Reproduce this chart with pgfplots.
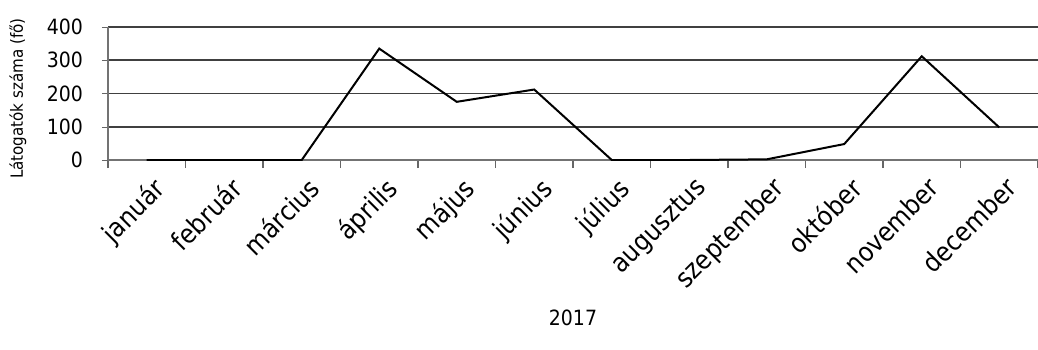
\documentclass[border=0pt]{standalone}
\usepackage{fontspec}
\setmainfont{DejaVu Sans Condensed}
\usepackage{pgfplots}
\pgfplotsset{compat=1.18}
\begin{document}
\begin{tikzpicture}
\begin{axis}[
  at={(0,0)}, anchor=south west,
  scale only axis,
  width=465pt, height=66.5pt,
  xmin=-0.5, xmax=11.5,
  ymin=0, ymax=400,
  ytick={0,100,200,300,400},
  xtick={0,...,11},
  xticklabels={január,február,március,április,május,június,július,augusztus,szeptember,október,november,december},
  minor xtick={-0.5,0.5,...,11.5},
  major x tick style={draw=none},
  minor x tick style={draw=black!60, line width=0.6pt},
  minor tick length=4pt,
  axis x line*=bottom,
  axis y line*=left,
  axis line style={draw=black!55, line width=0.7pt, -},
  ymajorgrids,
  grid style={draw=black!75, line width=0.8pt},
  y tick style={draw=black!60},
  xtick pos=lower, tick align=outside,
  major tick length=3pt,
  font=\fontsize{10}{12}\selectfont,
  yticklabel style={font=\fontsize{10.5}{12}\selectfont, xshift=-6pt},
  /pgf/number format/assume math mode=true,
  xticklabel style={font=\fontsize{13.2}{15}\selectfont, rotate=45, anchor=north east, inner sep=1pt, yshift=-4pt, xshift=-0.5pt},
  xlabel={2017},
  xlabel style={font=\fontsize{10.5}{12}\selectfont, at={(axis description cs:0.5,-1.188)}, anchor=center},
  ylabel={Látogatók száma (fő)},
  ylabel style={font=\fontsize{8.4}{10}\selectfont, at={(axis description cs:-0.0968,0.462)}, anchor=center},
]
\addplot[black, line width=1pt, mark=none] coordinates {
(0,0) (1,0) (2,0) (3,335) (4,175) (5,212) (6,0) (7,0) (8,2) (9,48) (10,312) (11,98)
};
\end{axis}
\pgfresetboundingbox
\path (-54pt,-94.5pt) rectangle (465pt,80pt);
\end{tikzpicture}
\end{document}
